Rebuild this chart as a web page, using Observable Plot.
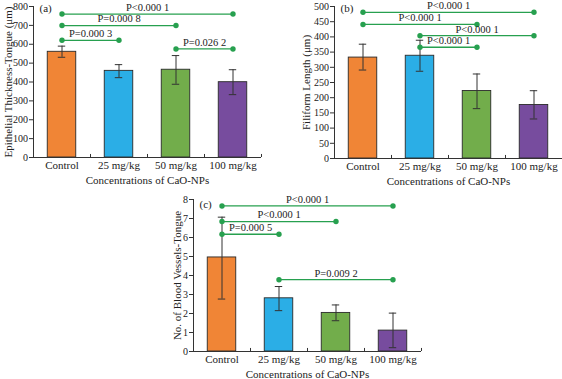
<!DOCTYPE html>
<html><head><meta charset="utf-8">
<script src="https://cdn.jsdelivr.net/npm/d3@7"></script>
<script src="https://cdn.jsdelivr.net/npm/@observablehq/plot@0.6"></script>
<style>
body{margin:0;background:#fff;}
#wrap{position:relative;width:562px;height:379px;overflow:hidden;background:#fff;}
#wrap > div{position:absolute;}
</style></head><body>
<div id="wrap"><div id="pa" style="left:0;top:0"></div><div id="pb" style="left:281px;top:0"></div><div id="pc" style="left:140px;top:190px"></div></div>
<script>
const categories = ["Control", "25 mg/kg", "50 mg/kg", "100 mg/kg"];
const barColors = ["#F08536", "#2BAEE6", "#72AD4B", "#774C9E"];
const xLabel = "Concentrations of CaO-NPs";

// (a) Epithelial thickness
const thicknessMean = [560, 459, 465, 399];
const thicknessLow = [531, 423, 388, 333];
const thicknessHigh = [590, 492, 540, 465];
const thicknessTicks = [0, 100, 200, 300, 400, 500, 600, 700, 800];
const thicknessBrackets = [
  {from: "Control", to: "100 mg/kg", y: 760, label: "P<0.000 1"},
  {from: "Control", to: "50 mg/kg", y: 699, label: "P=0.000 8"},
  {from: "Control", to: "25 mg/kg", y: 621, label: "P=0.000 3"},
  {from: "50 mg/kg", to: "100 mg/kg", y: 575, label: "P=0.026 2"}
];

// (b) Filiform length
const filiformMean = [332, 338, 222, 176];
const filiformLow = [291, 287, 164, 130];
const filiformHigh = [376, 389, 278, 223];
const filiformTicks = [0, 50, 100, 150, 200, 250, 300, 350, 400, 450, 500];
const filiformBrackets = [
  {from: "Control", to: "100 mg/kg", y: 481, label: "P<0.000 1"},
  {from: "Control", to: "50 mg/kg", y: 441, label: "P<0.000 1"},
  {from: "25 mg/kg", to: "100 mg/kg", y: 404, label: "P<0.000 1"},
  {from: "25 mg/kg", to: "50 mg/kg", y: 366, label: "P<0.000 1"}
];

// (c) Blood vessels
const vesselsMean = [4.95, 2.8, 2.03, 1.1];
const vesselsLow = [2.76, 2.15, 1.62, 0.2];
const vesselsHigh = [7.07, 3.42, 2.45, 2.02];
const vesselsTicks = [0, 1, 2, 3, 4, 5, 6, 7, 8];
const vesselsBrackets = [
  {from: "Control", to: "100 mg/kg", y: 7.66, label: "P<0.000 1"},
  {from: "Control", to: "50 mg/kg", y: 6.84, label: "P<0.000 1"},
  {from: "Control", to: "25 mg/kg", y: 6.17, label: "P=0.000 5"},
  {from: "25 mg/kg", to: "100 mg/kg", y: 3.78, label: "P=0.009 2"}
];

const FONT = '"Liberation Serif","Times New Roman",serif';
const GREEN = "#27a04f";
const INK = "#222";

function panel(cfg) {
  const idx = c => categories.indexOf(c);
  const rows = categories.map((c, i) => ({i, mean: cfg.mean[i], lo: cfg.low[i], hi: cfg.high[i], color: barColors[i]}));
  const br = cfg.brackets.map(b => ({a: idx(b.from), b: idx(b.to), y: b.y, label: b.label}));
  const ends = br.flatMap(b => [{x: b.a, y: b.y}, {x: b.b, y: b.y}]);
  const yMax = cfg.ticks[cfg.ticks.length - 1];
  const centers = categories.map((c, i) => i);
  const bounds = categories.map((c, i) => i + 0.5);
  const cap = 0.065;
  return Plot.plot({
    width: cfg.width, height: cfg.height,
    marginLeft: cfg.mL, marginRight: cfg.mR, marginTop: cfg.mT, marginBottom: cfg.mB,
    style: {fontFamily: FONT, fontSize: "11px", color: INK, background: "transparent", overflow: "visible"},
    x: {domain: [-0.5, categories.length - 0.5], axis: null},
    y: {domain: [0, yMax], axis: null},
    color: {type: "identity"},
    marks: [
      Plot.rectY(rows, {x1: d => d.i - 0.25, x2: d => d.i + 0.25, y1: 0, y2: "mean", fill: "color", stroke: "#2a2a2a", strokeWidth: 0.9}),
      Plot.ruleX(rows, {x: "i", y1: "lo", y2: "hi", stroke: "#333", strokeWidth: 1}),
      Plot.ruleY(rows, {y: "lo", x1: d => d.i - cap, x2: d => d.i + cap, stroke: "#333", strokeWidth: 1}),
      Plot.ruleY(rows, {y: "hi", x1: d => d.i - cap, x2: d => d.i + cap, stroke: "#333", strokeWidth: 1}),
      Plot.link(br, {x1: "a", x2: "b", y1: "y", y2: "y", stroke: GREEN, strokeWidth: 1.3}),
      Plot.dot(ends, {x: "x", y: "y", r: 2.7, fill: GREEN}),
      Plot.text(br, {x: d => (d.a + d.b) / 2, y: "y", text: "label", dy: -6.5, fontSize: 10.5, fill: INK}),
      Plot.ruleY([0], {stroke: "#333"}),
      Plot.ruleX([-0.5], {stroke: "#333"}),
      Plot.ruleX(bounds, {y1: 0, y2: yMax * 0.02, stroke: "#333"}),
      Plot.axisY(cfg.ticks, {tickSize: 4, tickPadding: 1.5, label: null, fontSize: 10, stroke: "#333"}),
      Plot.axisX(centers, {tickSize: 0, tickPadding: 3.5, label: null, tickFormat: i => categories[i], fontSize: 11}),
      Plot.text([xLabel], {frameAnchor: "bottom", dy: 23, textAnchor: "middle", lineAnchor: "middle", text: d => d, fontSize: 11, fill: INK}),
      Plot.text([cfg.yLabel], {frameAnchor: "left", rotate: -90, dx: cfg.labelDx, textAnchor: "middle", lineAnchor: "middle", text: d => d, fontSize: 11, fill: INK}),
      Plot.text([cfg.tag], {frameAnchor: "top-left", dx: 6, dy: cfg.tagDy, textAnchor: "start", lineAnchor: "middle", text: d => d, fontSize: 11, fill: INK})
    ]
  });
}

document.getElementById("pa").append(panel({
  mean: thicknessMean, low: thicknessLow, high: thicknessHigh, brackets: thicknessBrackets, ticks: thicknessTicks,
  yLabel: "Epithelial Thickness-Tongue (μm)", tag: "(a)",
  width: 281, height: 190, mL: 33, mR: 20, mT: 6, mB: 33, labelDx: -25, tagDy: 1.5
}));
document.getElementById("pb").append(panel({
  mean: filiformMean, low: filiformLow, high: filiformHigh, brackets: filiformBrackets, ticks: filiformTicks,
  yLabel: "Filiform Length (μm)", tag: "(b)",
  width: 281, height: 190, mL: 53, mR: 0, mT: 6, mB: 32, labelDx: -28, tagDy: 1.5
}));
document.getElementById("pc").append(panel({
  mean: vesselsMean, low: vesselsLow, high: vesselsHigh, brackets: vesselsBrackets, ticks: vesselsTicks,
  yLabel: "No. of Blood Vessels-Tongue", tag: "(c)",
  width: 300, height: 189, mL: 53, mR: 19, mT: 9, mB: 28, labelDx: -16, tagDy: 5
}));
</script>
</body></html>
